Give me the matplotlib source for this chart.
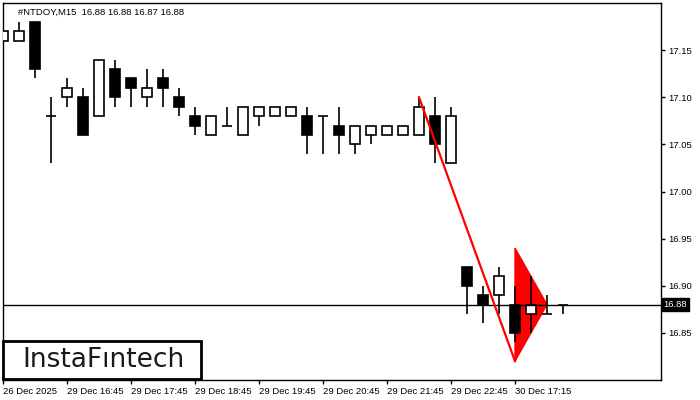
import matplotlib
matplotlib.use("Agg")
import matplotlib.pyplot as plt
from matplotlib.patches import Polygon, Rectangle

plt.rcParams["font.family"] = ["Liberation Sans", "DejaVu Sans"]

# ----------------------------------------------
# data: #NTDOY M15 candles
# ----------------------------------------------
opens = [17.16, 17.16, 17.18, 17.08, 17.10, 17.10, 17.08, 17.13, 17.12, 17.10,
         17.12, 17.10, 17.08, 17.06, 17.07, 17.06, 17.08, 17.08, 17.08, 17.08,
         17.08, 17.07, 17.05, 17.06, 17.06, 17.06, 17.06, 17.08, 17.03,
         16.92, 16.89, 16.89, 16.88, 16.87, 16.87, 16.88]
highs = [17.17, 17.18, 17.18, 17.10, 17.12, 17.11, 17.14, 17.14, 17.12, 17.13,
         17.13, 17.11, 17.09, 17.08, 17.09, 17.09, 17.09, 17.09, 17.09, 17.09,
         17.08, 17.09, 17.07, 17.07, 17.07, 17.07, 17.10, 17.10, 17.09,
         16.92, 16.90, 16.92, 16.90, 16.91, 16.89, 16.88]
lows = [17.15, 17.16, 17.12, 17.03, 17.09, 17.06, 17.08, 17.09, 17.09, 17.09,
        17.09, 17.08, 17.06, 17.06, 17.07, 17.06, 17.07, 17.08, 17.08, 17.04,
        17.04, 17.04, 17.04, 17.05, 17.06, 17.06, 17.06, 17.03, 17.03,
        16.87, 16.86, 16.87, 16.84, 16.85, 16.87, 16.87]
closes = [17.17, 17.17, 17.13, 17.08, 17.11, 17.06, 17.14, 17.10, 17.11, 17.11,
          17.11, 17.09, 17.07, 17.08, 17.07, 17.09, 17.09, 17.09, 17.09, 17.06,
          17.08, 17.06, 17.07, 17.07, 17.07, 17.07, 17.09, 17.05, 17.08,
          16.90, 16.88, 16.91, 16.85, 16.88, 16.87, 16.88]

time_ticks = [0, 4, 8, 12, 16, 20, 24, 28, 32]
time_labels = ["26 Dec 2025", "29 Dec 16:45", "29 Dec 17:45", "29 Dec 18:45",
               "29 Dec 19:45", "29 Dec 20:45", "29 Dec 21:45", "29 Dec 22:45",
               "30 Dec 17:15"]
price_ticks = [16.85, 16.90, 16.95, 17.00, 17.05, 17.10, 17.15]
last_price = 16.88

# pennant pattern: pole from bar 26 down to bar 32, flag to bar 34
pole_x = [26, 32]
pole_y = [17.10, 16.82]
flag_x = [32, 32, 34]
flag_y = [16.94, 16.82, 16.88]

fig = plt.figure(figsize=(7, 4), dpi=100)
ax = fig.add_axes([3 / 700, 20 / 400, 658 / 700, 377 / 400])

body_w = 0.62
for i in range(len(opens)):
    o, h, l, c = opens[i], highs[i], lows[i], closes[i]
    ax.vlines(i, l, h, color="black", lw=1.2, zorder=3)
    if o == c:
        ax.hlines(o, i - body_w / 2, i + body_w / 2, color="black", lw=1.2, zorder=4)
    else:
        fill = "white" if c > o else "black"
        ax.bar(i, abs(c - o), bottom=min(o, c), width=body_w, color=fill,
               edgecolor="black", linewidth=1.2, zorder=4)

ax.axhline(last_price, color="black", lw=1, zorder=5)

flag = Polygon(list(zip(flag_x, flag_y)), closed=True, facecolor="red",
               edgecolor="red", zorder=2)
ax.add_patch(flag)
ax.plot(pole_x, pole_y, color="red", lw=1.6, zorder=6)

ax.set_xlim(0, 41.125)
ax.set_ylim(16.80, 17.20)

ax.yaxis.tick_right()
ax.set_yticks(price_ticks)
ax.set_yticklabels([f"{p:.2f}" for p in price_ticks])
ax.tick_params(axis="y", direction="out", length=3, width=1, pad=2, labelsize=6.8)
ax.set_xticks(time_ticks)
ax.set_xticklabels(time_labels, ha="left")
ax.tick_params(axis="x", direction="out", length=3, width=1, pad=2, labelsize=6.8)

for sp in ax.spines.values():
    sp.set_color("black")
    sp.set_linewidth(1)

# last price tag on right axis
ax.text(1.004, last_price, f"{last_price:.2f}", transform=ax.get_yaxis_transform(),
        ha="left", va="center", color="white", fontsize=6.8, zorder=10,
        bbox=dict(boxstyle="square,pad=0.2", facecolor="black", edgecolor="black"))

ax.text(0.023, 0.988, "#NTDOY,M15  16.88 16.88 16.87 16.88", transform=ax.transAxes,
        ha="left", va="top", fontsize=6.8, color="black")

# logo
ax.add_patch(Rectangle((0.0, 0.003), 0.301, 0.100, transform=ax.transAxes,
                       facecolor="white", edgecolor="black", linewidth=2,
                       zorder=11, clip_on=False))
ax.text(0.152, 0.053, "InstaF\u0131ntech", transform=ax.transAxes, ha="center",
        va="center", fontsize=19, color="#1a1a1a", zorder=12,
        family=["DejaVu Sans"])

fig.savefig("out.png", dpi=100)
